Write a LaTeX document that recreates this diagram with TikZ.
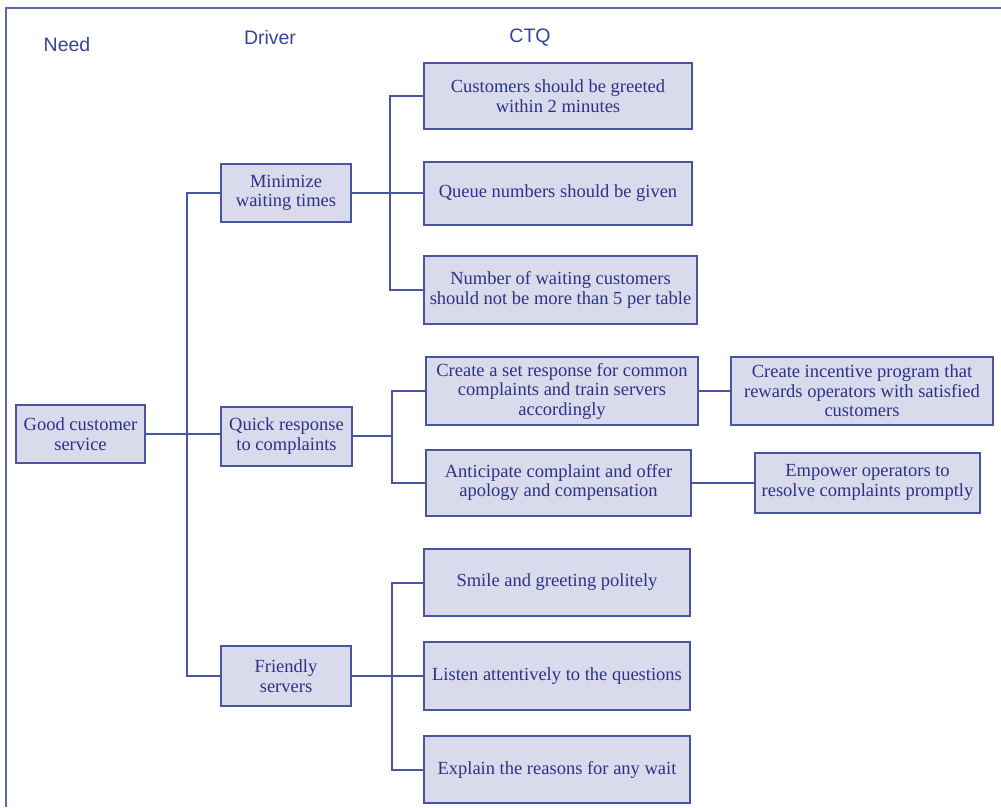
\documentclass[tikz,border=0pt]{standalone}
\usepackage{fontspec}
\setmainfont{Liberation Serif}
\newfontfamily\hdrfont{Liberation Sans}
\definecolor{boxfill}{HTML}{D9DAEB}
\definecolor{boxline}{HTML}{4A559F}
\definecolor{inktext}{HTML}{2A3386}
\definecolor{hdrtext}{HTML}{34449A}
\definecolor{framecol}{HTML}{5E68AC}
\tikzset{
  item/.style={draw=boxline, fill=boxfill, line width=2pt, text=inktext,
    align=center, inner sep=0pt,
    font=\fontsize{18.5}{19.5}\selectfont},
  header/.style={text=hdrtext, font=\hdrfont\fontsize{19.5}{22}\selectfont},
  link/.style={draw=boxline, line width=2pt},
}
\begin{document}
\begin{tikzpicture}[x=1pt, y=-1pt]
\useasboundingbox (0,0) rectangle (1001,807);
% outer frame (top and left edges)
\draw[framecol, line width=2pt] (1001,8) -- (6,8) -- (6,807);

% column headings
\node[header] (hneed)   at (67,45)  {Need};
\node[header] (hdriver) at (270,38) {Driver};
\node[header] (hctq)    at (530,38) {CTQ};

% need and drivers
\node[item, minimum width=129pt, minimum height=58pt] (good) at (80.5,434) {Good customer\\service};
\node[item, minimum width=130pt, minimum height=58pt] (mini) at (286,193) {Minimize\\waiting times};
\node[item, minimum width=131pt, minimum height=59pt] (quick) at (286.5,436) {Quick response\\to complaints};
\node[item, minimum width=130pt, minimum height=60pt] (friend) at (286,676) {Friendly\\servers};

% CTQs
\node[item, minimum width=268pt, minimum height=66pt] (c1) at (558,96) {Customers should be greeted\\within 2 minutes};
\node[item, minimum width=268pt, minimum height=63pt] (c2) at (558,193) {Queue numbers should be given};
\node[item, minimum width=273pt, minimum height=68pt] (c3) at (560.5,290) {Number of waiting customers\\should not be more than 5 per table};
\node[item, minimum width=272pt, minimum height=68pt] (c4) at (562,391) {Create a set response for common\\complaints and train servers\\accordingly};
\node[item, minimum width=262pt, minimum height=68pt] (c5) at (862,391) {Create incentive program that\\rewards operators with satisfied\\customers};
\node[item, minimum width=265pt, minimum height=66pt] (c6) at (558.5,482.5) {Anticipate complaint and offer\\apology and compensation};
\node[item, minimum width=225pt, minimum height=60pt] (c7) at (867.5,482.5) {Empower operators to\\resolve complaints promptly};
\node[item, minimum width=266pt, minimum height=67pt] (c8) at (557,582.5) {Smile and greeting politely};
\node[item, minimum width=266pt, minimum height=68pt] (c9) at (557,676) {Listen attentively to the questions};
\node[item, minimum width=266pt, minimum height=67pt] (c10) at (557,769.5) {Explain the reasons for any wait};

% bus positions
\coordinate (tk) at (187,435);
\coordinate (b1) at (390,193);
\coordinate (b2) at (392,436);
\coordinate (b3) at (392,676);

% need to drivers
\draw[link] (good.east) -- (good.east -| quick.west);
\draw[link] (mini.west) -- (mini.west -| tk) -- (friend.west -| tk) -- (friend.west);

% minimize waiting times
\draw[link] (mini.east) -- (mini.east -| b1);
\draw[link] (c1.west) -- (c1.west -| b1) -- (c3.west -| b1) -- (c3.west);
\draw[link] (c2.west) -- (c2.west -| b1);

% quick response
\draw[link] (quick.east) -- (quick.east -| b2);
\draw[link] (c4.west) -- (c4.west -| b2) -- (c6.west -| b2) -- (c6.west);
\draw[link] (c4.east) -- (c5.west);
\draw[link] (c6.east) -- (c7.west);

% friendly servers
\draw[link] (friend.east) -- (c9.west);
\draw[link] (c8.west) -- (c8.west -| b3) -- (c10.west -| b3) -- (c10.west);
\end{tikzpicture}
\end{document}
